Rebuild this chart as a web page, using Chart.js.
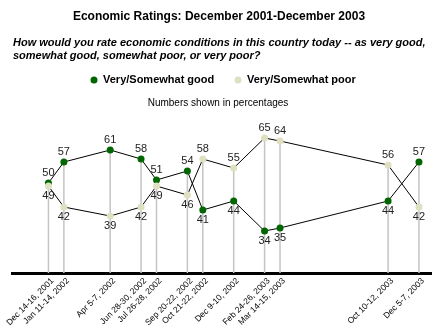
<!DOCTYPE html>
<html lang="en">
<head>
  <meta charset="UTF-8">
  <title>Economic Ratings: December 2001-December 2003</title>
  <script src="https://cdn.jsdelivr.net/npm/chart.js"></script>
  <style>
    html, body { margin: 0; padding: 0; background: #fff; }
  </style>
</head>
<body>
  <canvas id="myChart" width="440" height="332"></canvas>

  <script>
    const ctx = document.getElementById('myChart').getContext('2d');

    // Poll dates and their position on a month axis (Dec 2001 = 0)
    const dates = [
      'Dec 14-16, 2001', 'Jan 11-14, 2002', 'Apr 5-7, 2002', 'Jun 28-30, 2002',
      'Jul 26-28, 2002', 'Sep 20-22, 2002', 'Oct 21-22, 2002', 'Dec 9-10, 2002',
      'Feb 24-26, 2003', 'Mar 14-15, 2003', 'Oct 10-12, 2003', 'Dec 5-7, 2003'
    ];
    const months = [0, 1, 4, 6, 7, 9, 10, 12, 14, 15, 22, 24];

    const good = [50, 57, 61, 58, 51, 54, 41, 44, 34, 35, 44, 57];
    const poor = [49, 42, 39, 42, 49, 46, 58, 55, 65, 64, 56, 42];

    const GREEN = '#006600';
    const BEIGE = '#dfdfc1';
    const FONT = 'Arial, "Liberation Sans", sans-serif';

    // grey drop lines from the higher point of each poll down to the axis
    const dropLines = {
      id: 'dropLines',
      beforeDatasetsDraw(chart) {
        const { ctx, chartArea, scales } = chart;
        ctx.save();
        ctx.strokeStyle = '#c4c4c4';
        ctx.lineWidth = 1.5;
        months.forEach((m, i) => {
          const x = scales.x.getPixelForValue(m);
          const yTop = scales.y.getPixelForValue(Math.max(good[i], poor[i]));
          ctx.beginPath();
          ctx.moveTo(x, yTop);
          ctx.lineTo(x, chartArea.bottom);
          ctx.stroke();
        });
        ctx.restore();
      }
    };

    // value labels: the higher series above its point, the lower one below
    const valueLabels = {
      id: 'valueLabels',
      afterDatasetsDraw(chart) {
        const { ctx } = chart;
        ctx.save();
        ctx.font = '11px ' + FONT;
        ctx.fillStyle = '#222';
        ctx.textAlign = 'center';
        ctx.textBaseline = 'middle';
        chart.data.datasets.forEach((ds, d) => {
          const mine = ds.label.endsWith('good') ? good : poor;
          const other = mine === good ? poor : good;
          chart.getDatasetMeta(d).data.forEach((pt, i) => {
            const above = mine[i] > other[i] || (mine[i] === other[i] && mine === good);
            ctx.fillText(String(mine[i]), pt.x, above ? pt.y - 10 : pt.y + 10);
          });
        });
        ctx.restore();
      }
    };

    // title, question, legend and note above the plot
    const header = {
      id: 'header',
      beforeDraw(chart) {
        const { ctx } = chart;
        ctx.save();
        ctx.fillStyle = '#fff';
        ctx.fillRect(0, 0, chart.width, chart.height);
        ctx.fillStyle = '#000';
        ctx.textBaseline = 'middle';

        ctx.font = 'bold 12px ' + FONT;
        ctx.textAlign = 'center';
        ctx.fillText('Economic Ratings: December 2001-December 2003', 219, 17);

        ctx.font = 'italic bold 11px ' + FONT;
        ctx.textAlign = 'left';
        ctx.fillText('How would you rate economic conditions in this country today -- as very good,', 13, 43);
        ctx.fillText('somewhat good, somewhat poor, or very poor?', 13, 56);

        const legend = [
          { label: 'Very/Somewhat good', color: GREEN, x: 94 },
          { label: 'Very/Somewhat poor', color: BEIGE, x: 238 }
        ];
        ctx.font = 'bold 11px ' + FONT;
        legend.forEach((item) => {
          ctx.fillStyle = item.color;
          ctx.beginPath();
          ctx.arc(item.x, 80, 3.5, 0, Math.PI * 2);
          ctx.fill();
          ctx.fillStyle = '#000';
          ctx.fillText(item.label, item.x + 9, 80);
        });

        ctx.font = '10px ' + FONT;
        ctx.textAlign = 'center';
        ctx.fillText('Numbers shown in percentages', 218, 103);
        ctx.restore();
      }
    };

    const toPoints = (values) => values.map((v, i) => ({ x: months[i], y: v }));

    const chartConfig = {
      type: 'line',
      data: {
        datasets: [
          {
            label: 'Very/Somewhat good',
            data: toPoints(good),
            borderColor: '#000',
            borderWidth: 1,
            pointBackgroundColor: GREEN,
            pointBorderWidth: 0,
            pointRadius: 3.5,
            order: 1
          },
          {
            label: 'Very/Somewhat poor',
            data: toPoints(poor),
            borderColor: '#000',
            borderWidth: 1,
            pointBackgroundColor: BEIGE,
            pointBorderWidth: 0,
            pointRadius: 3.5,
            order: 0
          }
        ]
      },
      options: {
        responsive: false,
        animation: false,
        layout: { padding: { top: 93, left: 12, right: 9, bottom: 0 } },
        plugins: {
          legend: { display: false },
          tooltip: { enabled: false }
        },
        scales: {
          x: {
            type: 'linear',
            min: -2.36,
            max: 24.78,
            grid: { display: false, drawTicks: false },
            border: { display: true, color: '#000', width: 3 },
            afterBuildTicks: (scale) => {
              scale.ticks = months.map((m) => ({ value: m }));
            },
            afterFit: (scale) => {
              scale.height = 59;
              scale.paddingLeft = 0;
              scale.paddingRight = 0;
            },
            ticks: {
              autoSkip: false,
              minRotation: 45,
              maxRotation: 45,
              padding: 3,
              labelOffset: 4,
              color: '#000',
              font: { size: 8.5, family: FONT },
              callback: (value, index) => dates[index]
            }
          },
          y: {
            display: false,
            min: 20,
            max: 80
          }
        }
      },
      plugins: [header, dropLines, valueLabels]
    };

    const myChart = new Chart(ctx, chartConfig);
  </script>
</body>
</html>
